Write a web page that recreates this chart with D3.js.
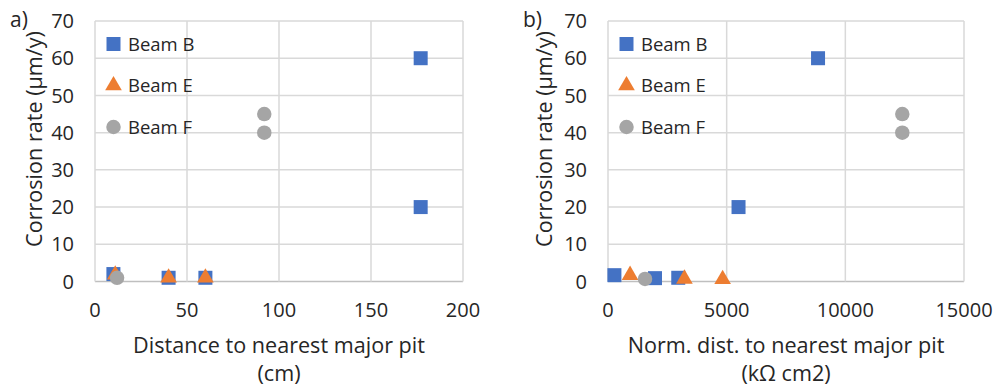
<!DOCTYPE html>
<html>
<head>
<meta charset="utf-8">
<script src="https://cdn.jsdelivr.net/npm/d3@7"></script>
<style>
  body { margin: 0; background: #fff; }
  svg { display: block; }
  text { font-family: "Open Sans", sans-serif; fill: #262626; }
</style>
</head>
<body>
<div id="chart"></div>
<script>
// Series names and colours
const beams = ["Beam B", "Beam E", "Beam F"];
const beamColors = ["#4472C4", "#ED7D31", "#A5A5A5"];
const beamShapes = [d3.symbolSquare, d3.symbolTriangle, d3.symbolCircle];

// Panel a) distance to nearest major pit (cm) vs corrosion rate
const distB = [10, 40, 60, 177, 177];
const rateB_a = [2, 1, 1, 60, 20];
const distE = [11, 40, 60];
const rateE_a = [1.8, 1, 1];
const distF = [12, 92, 92];
const rateF_a = [1, 45, 40];

// Panel b) normalised distance (kΩ cm2) vs corrosion rate
const normB = [270, 1980, 2960, 5500, 8850];
const rateB_b = [1.7, 0.9, 1, 20, 60];
const normE = [930, 3220, 4830];
const rateE_b = [1.7, 0.7, 0.6];
const normF = [1560, 12400, 12400];
const rateF_b = [0.7, 45, 40];

// Axis ticks
const yTicks = [0, 10, 20, 30, 40, 50, 60, 70];
const xTicksA = [0, 50, 100, 150, 200];
const xTicksB = [0, 5000, 10000, 15000];

const panels = [
  {
    label: "a)", left: 95, right: 463, xMax: 200, xTicks: xTicksA, yTitleX: 42,
    xTitle: ["Distance to nearest major pit", "(cm)"],
    series: [[distB, rateB_a], [distE, rateE_a], [distF, rateF_a]]
  },
  {
    label: "b)", left: 608, right: 964, xMax: 15000, xTicks: xTicksB, yTitleX: 552,
    xTitle: ["Norm. dist. to nearest major pit", "(k\u03A9 cm2)"],
    series: [[normB, rateB_b], [normE, rateE_b], [normF, rateF_b]]
  }
];

const width = 997, height = 389;
const plotTop = 21, plotBottom = 281.5;

const svg = d3.select("#chart").append("svg")
  .attr("width", width)
  .attr("height", height);

function markerSize(i) {
  return i === 0 ? 196 : (i === 1 ? 120 : 165);
}

panels.forEach(p => {
  const x = d3.scaleLinear().domain([0, p.xMax]).range([p.left, p.right]);
  const y = d3.scaleLinear().domain([0, 70]).range([plotBottom, plotTop]);
  const g = svg.append("g");

  // gridlines
  g.selectAll(".hgrid").data(yTicks).enter().append("line")
    .attr("x1", p.left).attr("x2", p.right)
    .attr("y1", d => y(d)).attr("y2", d => y(d))
    .attr("stroke", d => d === 0 ? "#bfbfbf" : "#d9d9d9")
    .attr("stroke-width", 1.5);
  g.selectAll(".vgrid").data(p.xTicks).enter().append("line")
    .attr("x1", d => x(d)).attr("x2", d => x(d))
    .attr("y1", plotTop).attr("y2", plotBottom)
    .attr("stroke", "#d9d9d9")
    .attr("stroke-width", 1.5);

  // tick labels
  g.selectAll(".ylab").data(yTicks).enter().append("text")
    .attr("x", p.left - 21)
    .attr("y", d => y(d))
    .attr("dy", "0.36em")
    .attr("text-anchor", "end")
    .style("font-size", "20px")
    .text(d => d);
  g.selectAll(".xlab").data(p.xTicks).enter().append("text")
    .attr("x", d => x(d))
    .attr("y", 317)
    .attr("text-anchor", "middle")
    .style("font-size", "20px")
    .text(d => d);

  // axis titles
  const cx = (p.left + p.right) / 2;
  g.append("text")
    .attr("x", cx).attr("y", 353)
    .attr("text-anchor", "middle")
    .style("font-size", "21.6px")
    .text(p.xTitle[0]);
  g.append("text")
    .attr("x", cx).attr("y", 381)
    .attr("text-anchor", "middle")
    .style("font-size", "21.6px")
    .text(p.xTitle[1]);
  g.append("text")
    .attr("transform", `translate(${p.yTitleX},139) rotate(-90)`)
    .attr("text-anchor", "middle")
    .style("font-size", "21.6px")
    .text("Corrosion rate (\u03BCm/y)");

  // panel label
  g.append("text")
    .attr("x", p.left - 85).attr("y", 27)
    .style("font-size", "21px")
    .text(p.label);

  // points
  p.series.forEach((s, i) => {
    const pts = s[0].map((v, k) => [v, s[1][k]]);
    g.selectAll(".pt" + i).data(pts).enter().append("path")
      .attr("d", d3.symbol().type(beamShapes[i]).size(markerSize(i)))
      .attr("transform", d => `translate(${x(d[0])},${y(d[1])})`)
      .attr("fill", beamColors[i]);
  });

  // legend
  beams.forEach((b, i) => {
    const ly = 44 + i * 41.5;
    g.append("path")
      .attr("d", d3.symbol().type(beamShapes[i]).size(markerSize(i)))
      .attr("transform", `translate(${p.left + 18.5},${ly})`)
      .attr("fill", beamColors[i]);
    g.append("text")
      .attr("x", p.left + 33).attr("y", ly)
      .attr("dy", "0.36em")
      .style("font-size", "18.5px")
      .text(b);
  });
});
</script>
</body>
</html>
